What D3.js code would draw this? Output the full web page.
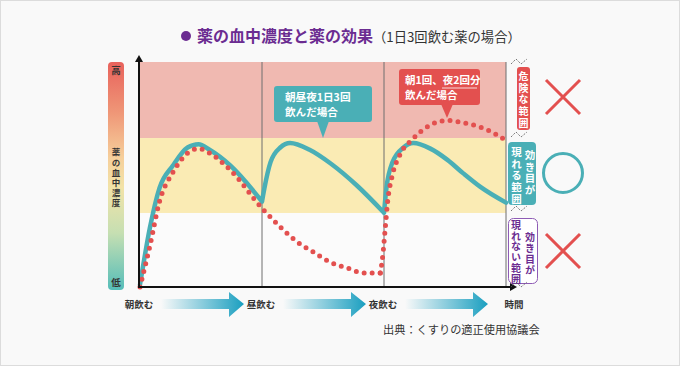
<!DOCTYPE html>
<html><head><meta charset="utf-8">
<script src="https://cdn.jsdelivr.net/npm/d3@7"></script>
<style>
html,body{margin:0;padding:0;background:#f9f9f9;}
svg{display:block;font-family:"Noto Sans CJK JP","Noto Sans",sans-serif;}
.vt{writing-mode:vertical-rl;}
</style></head>
<body>
<svg id="c" width="680" height="366"></svg>
<script>
// ---- data ----
const titleMain = "薬の血中濃度と薬の効果";
const titleSub = "（1日3回飲む薬の場合）";
const timeLabels = ["朝飲む", "昼飲む", "夜飲む", "時間"];
const timeTicks = [0, 1, 2, 3];
const dangerLevel = 66.2;   // upper band lower bound
const effectLevel = 32.9;   // effective band lower bound
const tealDoses = [0, 1, 2, 3];
const tealT = [0, 0.08, 0.16, 0.27, 0.39, 0.48, 0.57, 0.74, 1.0, 1.02, 1.07, 1.15, 1.23, 1.39, 1.56, 1.78, 2.0, 2.02, 2.07, 2.16, 2.24, 2.38, 2.52, 2.65, 2.79, 3.0];
const tealV = [1, 26, 44, 54, 62, 63.5, 61, 54, 38, 44, 55.5, 62, 64, 61, 55, 45, 33, 44, 55.5, 62, 64, 61.5, 56.5, 50.5, 44.5, 37.5];
const redDoses = [0, 1.97, 3];
const redT = [0, 0.08, 0.16, 0.27, 0.39, 0.48, 0.57, 0.74, 1.0, 1.15, 1.29, 1.42, 1.56, 1.70, 1.83, 1.97, 1.99, 2.01, 2.03, 2.07, 2.13, 2.24, 2.38, 2.52, 2.65, 2.79, 2.93, 3.0];
const redV = [0, 18, 38, 51, 59.5, 61.5, 59.5, 52, 35, 26.7, 20, 15.6, 11, 8.4, 6.2, 6.2, 14, 26, 38, 50, 58.7, 66, 72, 74, 73, 71, 67.5, 65];
const scaleLabels = ["高", "薬の血中濃度", "低"];
const tealNote = ["朝昼夜1日3回", "飲んだ場合"];
const redNote = ["朝1回、", "夜2回分", "飲んだ場合"];
const rangeLabels = [["危険な範囲"], ["現れる範囲", "効き目が"], ["現れない範囲", "効き目が"]];
const source = "出典：くすりの適正使用協議会";

// ---- colors ----
const TEAL = "#4aafb6", RED = "#e3504f", PURPLE = "#6b2c91";

const svg = d3.select("#c");
svg.append("rect").attr("x", 0.5).attr("y", 0.5).attr("width", 679).attr("height", 365)
  .attr("fill", "#f9f9f9").attr("stroke", "#dcdcdc");

const x = d3.scaleLinear().domain([0, 3]).range([140, 506]);
const y = d3.scaleLinear().domain([0, 100]).range([287, 62]);

const defs = svg.append("defs");
const lg = defs.append("linearGradient").attr("id", "lvl").attr("x1", 0).attr("y1", 0).attr("x2", 0).attr("y2", 1);
[[0, "#e8625c"], [0.22, "#ef9677"], [0.42, "#f6cf9b"], [0.55, "#f2e3a8"], [0.75, "#c6dfb2"], [1, "#55bdb9"]]
  .forEach(([o, c]) => lg.append("stop").attr("offset", o).attr("stop-color", c));
const ag = defs.append("linearGradient").attr("id", "arr").attr("x1", 0).attr("y1", 0).attr("x2", 1).attr("y2", 0);
ag.append("stop").attr("offset", 0).attr("stop-color", "#1a9fc0").attr("stop-opacity", 0);
ag.append("stop").attr("offset", 1).attr("stop-color", "#1a9fc0");

// title
svg.append("circle").attr("cx", 186).attr("cy", 36).attr("r", 5).attr("fill", PURPLE);
svg.append("text").attr("x", 197).attr("y", 42).attr("font-size", 16).attr("font-weight", 700)
  .attr("fill", PURPLE).text(titleMain);
svg.append("text").attr("x", 373).attr("y", 42).attr("font-size", 13.3).attr("fill", "#333").text(titleSub);

// bands
svg.append("rect").attr("x", x(0)).attr("width", x(3) - x(0)).attr("y", y(100)).attr("height", y(dangerLevel) - y(100)).attr("fill", "#f0b9b1");
svg.append("rect").attr("x", x(0)).attr("width", x(3) - x(0)).attr("y", y(dangerLevel)).attr("height", y(effectLevel) - y(dangerLevel)).attr("fill", "#faebb4");
svg.append("rect").attr("x", x(0)).attr("width", x(3) - x(0)).attr("y", y(effectLevel)).attr("height", y(0) - y(effectLevel)).attr("fill", "#fbfbfb");

// vertical dose lines
svg.selectAll("line.v").data(timeTicks.slice(1)).join("line")
  .attr("x1", d => x(d)).attr("x2", d => x(d)).attr("y1", y(100)).attr("y2", y(0))
  .attr("stroke", "#6e6e6e").attr("stroke-width", 1);

// vertical text helper (one text element per column)
function vtext(g, str, cx, top, spacing, size, color) {
  g.append("text").attr("class", "vt").attr("x", cx).attr("y", top)
    .attr("font-size", size).attr("font-weight", 700).attr("fill", color)
    .style("letter-spacing", spacing + "px").text(str);
}

// level gradient bar
svg.append("rect").attr("x", 108).attr("y", 62).attr("width", 16).attr("height", 228).attr("rx", 4).attr("fill", "url(#lvl)");
svg.append("text").attr("x", 116).attr("y", 74).attr("text-anchor", "middle").attr("font-size", 9.5).attr("font-weight", 700).attr("fill", "#333").text(scaleLabels[0]);
svg.append("text").attr("x", 116).attr("y", 286).attr("text-anchor", "middle").attr("font-size", 9.5).attr("font-weight", 700).attr("fill", "#333").text(scaleLabels[2]);
vtext(svg, scaleLabels[1], 116, 148, 1.7, 8.5, "#333");

// curves
function segments(T, V, doses) {
  const pts = T.map((t, i) => [t, V[i]]);
  const segs = [];
  for (let k = 0; k < doses.length - 1; k++) {
    segs.push(pts.filter(p => p[0] >= doses[k] && p[0] <= doses[k + 1]));
  }
  return segs;
}
const line = d3.line().x(d => x(d[0])).y(d => y(d[1])).curve(d3.curveMonotoneX);
const tealPath = segments(tealT, tealV, tealDoses).map(s => line(s)).join("");
svg.append("path").attr("d", tealPath).attr("fill", "none").attr("stroke", TEAL)
  .attr("stroke-width", 4.5).attr("stroke-linecap", "round").attr("stroke-linejoin", "round");
segments(redT, redV, redDoses).forEach(s => {
  svg.append("path").attr("d", line(s)).attr("fill", "none").attr("stroke", RED)
    .attr("stroke-width", 5).attr("stroke-linecap", "round").attr("stroke-dasharray", "0 8");
});

// axes
svg.append("line").attr("x1", 139).attr("x2", 139).attr("y1", 60).attr("y2", 288).attr("stroke", "#111").attr("stroke-width", 2);
svg.append("line").attr("x1", 138).attr("x2", 512).attr("y1", 287).attr("y2", 287).attr("stroke", "#111").attr("stroke-width", 2);
svg.append("path").attr("d", "M139,55 L135,62 L143,62 Z").attr("fill", "#111");
svg.append("path").attr("d", "M517,287 L510,283 L510,291 Z").attr("fill", "#111");

// callouts
const tc = svg.append("g");
tc.append("rect").attr("x", 274).attr("y", 86).attr("width", 98).attr("height", 36).attr("rx", 3).attr("fill", TEAL);
tc.append("path").attr("d", "M317,121 L329,121 L323,138 Z").attr("fill", TEAL);
const tt = tc.append("text").attr("font-size", 10.6).attr("font-weight", 700).attr("fill", "#fff");
tt.append("tspan").attr("x", 285).attr("y", 101).text(tealNote[0]);
tt.append("tspan").attr("x", 285).attr("y", 116).text(tealNote[1]);

const rc = svg.append("g");
rc.append("rect").attr("x", 399).attr("y", 69).attr("width", 81).attr("height", 36).attr("rx", 3).attr("fill", RED);
rc.append("path").attr("d", "M441,104 L453,104 L447,118 Z").attr("fill", RED);
const rt = rc.append("text").attr("font-size", 10.5).attr("font-weight", 700).attr("fill", "#fff");
rt.append("tspan").attr("x", 405).attr("y", 84).text(redNote[0]);
rt.append("tspan").text(redNote[1]);
rt.append("tspan").attr("x", 405).attr("y", 99).text(redNote[2]);
rc.append("line").attr("x1", 442).attr("x2", 477).attr("y1", 88).attr("y2", 88).attr("stroke", "#fff").attr("stroke-width", 0.8);

// right range labels
const rg = svg.append("g");
rg.append("rect").attr("x", 517).attr("y", 67).attr("width", 13).attr("height", 63).attr("rx", 3).attr("fill", RED);
vtext(rg, rangeLabels[0][0], 523.5, 71, 1.8, 10, "#fff");
rg.append("rect").attr("x", 508).attr("y", 142).attr("width", 28).attr("height", 63).attr("rx", 4).attr("fill", TEAL);
vtext(rg, rangeLabels[1][0], 516.5, 147, 1.1, 10.5, "#fff");
vtext(rg, rangeLabels[1][1], 530, 150, 1.1, 10.5, "#fff");
rg.append("rect").attr("x", 508.5).attr("y", 218.5).attr("width", 29).attr("height", 65).attr("rx", 5).attr("fill", "#fff").attr("stroke", "#8e5bb5").attr("stroke-width", 1);
vtext(rg, rangeLabels[2][0], 516, 220, 0.8, 10, PURPLE);
vtext(rg, rangeLabels[2][1], 530, 232, 1, 10, PURPLE);

// zigzag separators
[62, 135, 209, 285].forEach(yy => {
  svg.append("path").attr("d", `M511,${yy + 2} L516,${yy - 3} L521,${yy + 2} L527,${yy - 3}`)
    .attr("fill", "none").attr("stroke", "#555").attr("stroke-width", 0.8).attr("stroke-dasharray", "2,1.5");
});

// symbols
function cross(cx, cy) {
  svg.append("path").attr("d", `M${cx - 17},${cy - 17} L${cx + 17},${cy + 17} M${cx + 17},${cy - 17} L${cx - 17},${cy + 17}`)
    .attr("stroke", RED).attr("stroke-width", 3).attr("fill", "none");
}
cross(563, 97);
svg.append("circle").attr("cx", 563).attr("cy", 173).attr("r", 19.5).attr("fill", "none").attr("stroke", TEAL).attr("stroke-width", 3);
cross(563, 251);

// bottom time labels and arrows
timeLabels.forEach((t, i) => {
  svg.append("text").attr("x", x(timeTicks[i]) + (i === 3 ? 8 : -1)).attr("y", 308).attr("text-anchor", "middle")
    .attr("font-size", 9.5).attr("font-weight", 700).attr("fill", "#333").text(t);
});
[0, 1, 2].forEach(i => {
  const x0 = x(timeTicks[i]) + 21, x1 = x(timeTicks[i + 1]) - 18, hx = x1 - 15;
  svg.append("path")
    .attr("d", `M${x0},299 L${hx},299 L${hx},292 L${x1},304 L${hx},317 L${hx},309 L${x0},309 Z`)
    .attr("fill", "url(#arr)");
});

svg.append("text").attr("x", 383).attr("y", 334).attr("font-size", 11.2).attr("fill", "#333").text(source);
</script>
</body></html>
